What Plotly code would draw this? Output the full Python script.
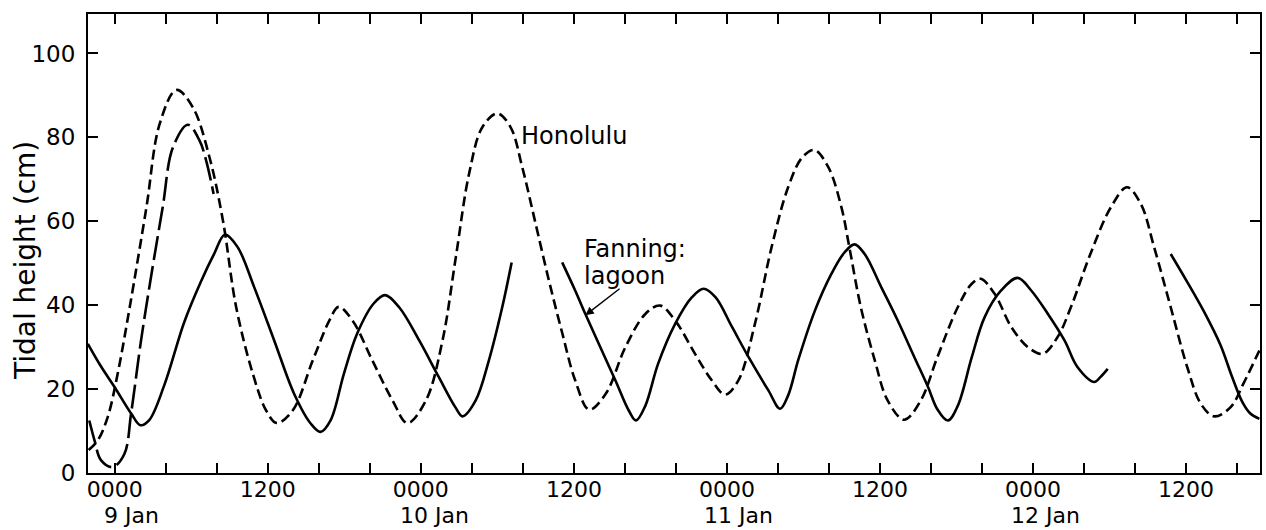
import plotly.graph_objects as go

# ---- data (hours from 0000 9 Jan, tidal height in cm) ----
honolulu_h = [-2.05, -1.33, -0.55, 0.23, 1.17, 2.48, 3.52, 4.83, 6.13, 7.43, 8.48, 9.52, 10.82, 11.87,
              12.7, 13.95, 15.52, 16.82, 17.55, 18.65, 20.2, 21.78, 22.95, 24.4, 25.7, 26.74, 27.78,
              28.82, 30.0, 31.04, 31.95, 33.0, 34.04, 35.1, 36.1, 37.2, 38.5, 40.04, 41.6, 42.77,
              43.95, 45.5, 46.81, 47.86, 48.9, 50.2, 51.5, 52.8, 53.9, 54.85, 55.95, 56.98, 57.6,
              58.5, 59.6, 60.6, 61.9, 63.2, 64.5, 66.1, 67.2, 67.9, 68.99, 70.3, 71.6, 72.76, 73.93,
              74.97, 76.5, 78.1, 79.37, 80.46, 81.5, 82.8, 84.1, 85.16, 86.2, 87.5, 88.5, 89.75]
honolulu_v = [5.5, 7.8, 13.4, 23.7, 39.5, 63.3, 83.2, 91.3, 87.1, 75.2, 60.2, 39.5, 23.7, 14.9,
              11.9, 14.9, 26.8, 36.3, 39.6, 36.3, 26.8, 17.3, 11.9, 17.3, 31.6, 51.4, 71.3,
              82.4, 85.7, 82.4, 72.9, 59.4, 45.9, 33.2, 22.1, 15.1, 18.9, 30.0, 37.9, 39.9,
              36.3, 28.4, 22.1, 18.7, 22.1, 35.6, 53.8, 68.1, 75.2, 77.0, 72.9, 63.3, 53.8,
              39.5, 26.8, 17.3, 12.7, 17.3, 27.6, 39.5, 45.1, 46.3, 42.7, 34.8, 30.0, 28.4, 32.4,
              39.5, 52.2, 63.3, 68.1, 64.1, 53.8, 39.5, 25.2, 16.5, 13.5, 15.7, 21.3, 29.2]

lagoon1_h = [-2.11, -1.1, -0.02, 1.28, 2.01, 2.7, 3.89, 5.45, 6.75, 7.8, 8.63, 9.62, 10.93, 12.5,
             14.06, 15.36, 16.14, 16.93, 17.97, 19.0, 20.3, 21.2, 22.3, 23.87, 25.4, 26.7, 27.27,
             28.3, 29.33, 30.38, 31.12]
lagoon1_v = [30.8, 25.5, 20.5, 14.2, 11.4, 12.6, 21.0, 36.0, 45.6, 52.3, 56.8, 53.9, 44.3, 31.6,
             18.9, 11.8, 9.8, 12.6, 23.7, 33.2, 40.4, 42.4, 39.5, 31.6, 22.9, 15.7, 13.5,
             17.3, 26.8, 39.5, 50.2]
lagoon2_h = [35.08, 36.1, 36.9, 37.95, 39.25, 40.3, 40.87, 41.6, 42.6, 43.95, 45.26, 46.17, 47.1,
             48.4, 49.7, 51.25, 52.17, 52.8, 53.6, 54.9, 56.2, 57.2, 58.0, 58.8, 60.1, 61.4, 62.7,
             63.77, 64.5, 65.33, 66.1, 67.2, 68.2, 69.5, 70.8, 71.86, 73.17, 74.47, 75.5, 76.8,
             77.3, 77.86]
lagoon2_v = [50.2, 43.5, 37.9, 30.8, 22.1, 14.9, 12.5, 16.0, 26.0, 35.6, 41.9, 43.9, 41.9,
             34.8, 27.6, 19.7, 15.3, 18.5, 27.0, 38.7, 47.5, 52.5, 54.5, 52.2, 44.3, 36.3, 27.6,
             20.5, 15.2, 12.5, 16.0, 27.6, 37.1, 43.5, 46.5, 43.5, 37.9, 31.6, 25.2, 21.7,
             22.9, 24.8]
lagoon3_h = [82.8, 84.1, 85.4, 86.7, 87.6, 88.4, 89.0, 89.75]
lagoon3_v = [52.2, 45.5, 38.5, 30.5, 23.0, 17.0, 14.3, 12.9]

ocean_h = [-2.0, -1.59, -1.07, -0.16, 0.76, 1.28, 2.06, 2.84, 3.76, 4.56, 5.74, 6.65, 7.17, 7.75]
ocean_v = [12.5, 7.8, 3.0, 1.4, 4.6, 14.2, 31.6, 46.7, 63.4, 77.6, 83.0, 79.2, 74.4, 66.5]

x_label_hours = [0, 12, 24, 36, 48, 60, 72, 84]
x_label_text = ["0000", "1200", "0000", "1200", "0000", "1200", "0000", "1200"]
date_hours = [1.3, 25.1, 48.9, 72.95]
date_text = ["9 Jan", "10 Jan", "11 Jan", "12 Jan"]
y_tickvals = [0, 20, 40, 60, 80, 100]

FONT = "DejaVu Sans"
LW = 2.6
SM = 1.0
fig = go.Figure()

fig.add_trace(go.Scatter(x=honolulu_h, y=honolulu_v, mode="lines", name="Honolulu",
                         line=dict(color="black", width=LW, dash="10px,5px", shape="spline",
                                   smoothing=SM)))
for hh, vv in [(lagoon1_h, lagoon1_v), (lagoon2_h, lagoon2_v), (lagoon3_h, lagoon3_v)]:
    fig.add_trace(go.Scatter(x=hh, y=vv, mode="lines", name="Fanning: lagoon",
                             line=dict(color="black", width=LW, shape="spline", smoothing=SM)))
fig.add_trace(go.Scatter(x=ocean_h, y=ocean_v, mode="lines", name="Fanning: ocean",
                         line=dict(color="black", width=LW, dash="24px,6px", shape="spline",
                                   smoothing=SM)))

fig.add_annotation(x=31.7, y=80.4, xref="x", yref="y", text="Honolulu", showarrow=False,
                   xanchor="left", yanchor="middle", font=dict(family=FONT, size=24, color="black"))
fig.add_annotation(x=36.6, y=53.4, xref="x", yref="y", text="Fanning:", showarrow=False,
                   xanchor="left", yanchor="middle", font=dict(family=FONT, size=24, color="black"))
fig.add_annotation(x=36.6, y=47.0, xref="x", yref="y", text="lagoon", showarrow=False,
                   xanchor="left", yanchor="middle", font=dict(family=FONT, size=24, color="black"))
fig.add_annotation(x=36.9, y=37.6, ax=39.7, ay=44.2, xref="x", yref="y", axref="x", ayref="y",
                   text="", showarrow=True, arrowhead=2, arrowsize=1.2, arrowwidth=1.4,
                   arrowcolor="black")
fig.add_annotation(x=-0.0528, y=0.462, xref="paper", yref="paper", text="Tidal height (cm)",
                   textangle=-90, showarrow=False, xanchor="center", yanchor="middle",
                   font=dict(family=FONT, size=28, color="black"))
for dh, dt in zip(date_hours, date_text):
    fig.add_annotation(x=dh, y=-0.093, xref="x", yref="paper", text=dt, showarrow=False,
                       xanchor="center", yanchor="middle",
                       font=dict(family=FONT, size=22, color="black"))

tick_hours = list(range(0, 89, 4))
fig.update_layout(
    width=1266, height=530,
    margin=dict(l=88, r=4, t=14, b=57),
    paper_bgcolor="white", plot_bgcolor="white",
    showlegend=False,
    font=dict(family=FONT, size=22, color="black"),
)
fig.update_xaxes(range=[-2.1, 89.8], showgrid=False, zeroline=False,
                 showline=True, linecolor="black", linewidth=2, mirror="ticks",
                 ticks="inside", ticklen=10, tickwidth=2, tickcolor="black",
                 tickmode="array", tickvals=tick_hours,
                 ticktext=[x_label_text[x_label_hours.index(v)] if v in x_label_hours else ""
                           for v in tick_hours],
                 ticklabelstandoff=-4,
                 tickfont=dict(family=FONT, size=22, color="black"))
fig.update_yaxes(range=[0, 109.4], showgrid=False, zeroline=False,
                 showline=True, linecolor="black", linewidth=2, mirror="ticks",
                 ticks="inside", ticklen=10, tickwidth=2, tickcolor="black",
                 tickmode="array", tickvals=y_tickvals, ticktext=[str(v) for v in y_tickvals],
                 ticklabelstandoff=6,
                 tickfont=dict(family=FONT, size=23, color="black"))

fig.write_html("out.html")
